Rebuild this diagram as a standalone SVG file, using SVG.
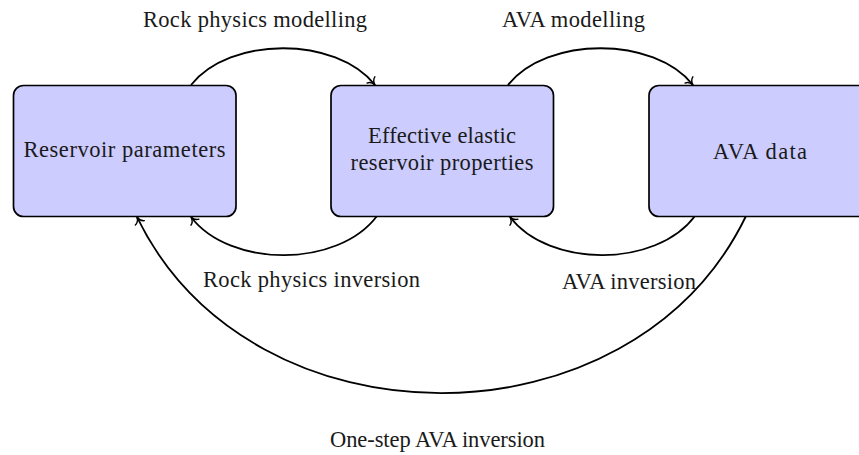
<svg xmlns="http://www.w3.org/2000/svg" width="859" height="455" viewBox="0 0 859 455">
  <style>
    .box { fill: #ccccff; stroke: #000; stroke-width: 1.7; }
    .lbl { font-family: "Liberation Serif", "Times New Roman", serif; font-size: 22.5px; fill: #1a1a1a; text-anchor: middle; }
    .edge { fill: none; stroke: #000; stroke-width: 1.8; marker-end: url(#to); }
  </style>
  <defs>
    <marker id="to" markerUnits="userSpaceOnUse" markerWidth="14" markerHeight="14" viewBox="-8 -7 10 14" refX="0" refY="0" orient="auto">
      <path d="M -6.5,-5 C -5.5,-1.8 -2,-0.4 0,0 C -2,0.4 -5.5,1.8 -6.5,5" fill="none" stroke="#000" stroke-width="1.4" stroke-linecap="round"/>
    </marker>
  </defs>
  <rect width="859" height="455" fill="#fff"/>

  <g id="connectors">
    <path id="e-rpm" class="edge" d="M 191,85 C 230,36 336,36 375,85"/>
    <path id="e-rpi" class="edge" d="M 377,216 C 338,268 230,268 191,217"/>
    <path id="e-avam" class="edge" d="M 508,85 C 547,36 654,36 693,85"/>
    <path id="e-avai" class="edge" d="M 695,216 C 656,268 549,268 510,217"/>
    <path id="e-one" class="edge" d="M 746,216 C 632,452 251,452 137,217"/>
  </g>

  <g id="reservoir-parameters">
    <rect class="box" x="13.5" y="85.5" width="222.5" height="131" rx="10"/>
    <text class="lbl" x="124.5" y="157" textLength="202" lengthAdjust="spacing">Reservoir parameters</text>
  </g>
  <g id="effective-properties">
    <rect class="box" x="331" y="85.5" width="222.5" height="131" rx="10"/>
    <text class="lbl" x="442" y="143" textLength="148" lengthAdjust="spacing">Effective elastic</text>
    <text class="lbl" x="442" y="170" textLength="183" lengthAdjust="spacing">reservoir properties</text>
  </g>
  <g id="ava-data">
    <rect class="box" x="649" y="85.5" width="222.5" height="131" rx="10"/>
    <text class="lbl" x="760" y="159" textLength="94" lengthAdjust="spacing">AVA data</text>
  </g>

  <g id="labels">
    <text class="lbl" x="255" y="27" textLength="224" lengthAdjust="spacing">Rock physics modelling</text>
    <text class="lbl" x="573.5" y="27" textLength="143" lengthAdjust="spacing">AVA modelling</text>
    <text class="lbl" x="311.5" y="287" textLength="217" lengthAdjust="spacing">Rock physics inversion</text>
    <text class="lbl" x="629" y="289" textLength="134" lengthAdjust="spacing">AVA inversion</text>
    <text class="lbl" x="437.5" y="447" textLength="215" lengthAdjust="spacing">One-step AVA inversion</text>
  </g>
</svg>
